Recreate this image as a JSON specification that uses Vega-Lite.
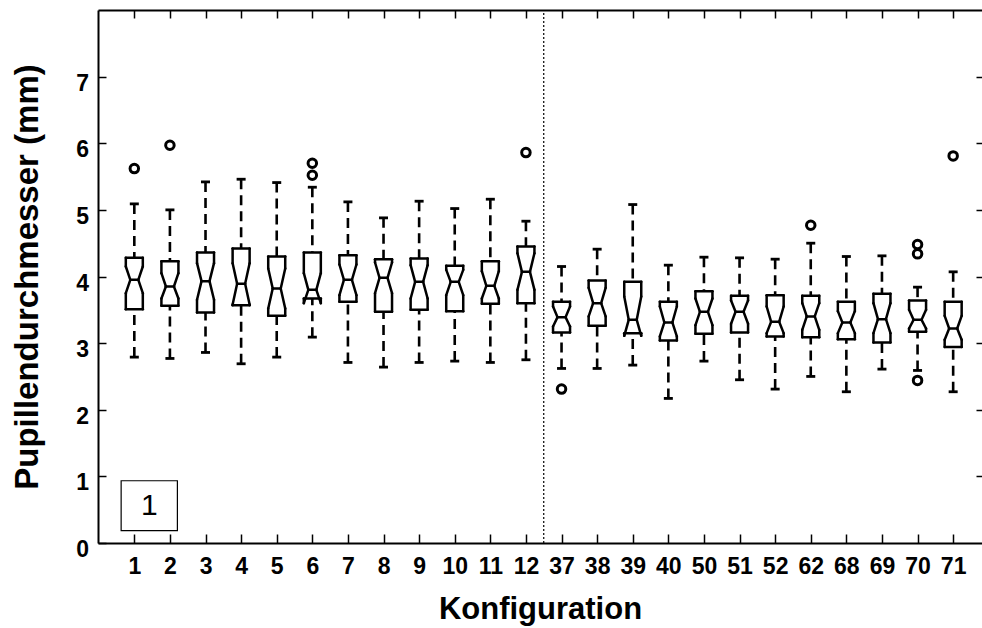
{
  "$schema": "https://vega.github.io/schema/vega-lite/v6.json",
  "width": 884,
  "height": 533,
  "autosize": "none",
  "padding": {"left": 98, "top": 10, "right": 0, "bottom": 85},
  "background": "white",
  "config": {
    "view": {"stroke": null},
    "font": "Liberation Sans",
    "axis": {"grid": false, "labelFlush": false, "labelOverlap": false, "labelBound": false, "tickColor": "black", "domainColor": "black", "labelColor": "black", "titleColor": "black"}
  },
  "datasets": {
    "boxes": [
      {"k": 1, "label": "1", "wlo": 2.79, "q1": 3.51, "nlo": 3.75, "med": 3.95, "nhi": 4.15, "q3": 4.28, "whi": 5.09},
      {"k": 2, "label": "2", "wlo": 2.77, "q1": 3.56, "nlo": 3.67, "med": 3.85, "nhi": 4.05, "q3": 4.23, "whi": 5.0},
      {"k": 3, "label": "3", "wlo": 2.86, "q1": 3.46, "nlo": 3.65, "med": 3.93, "nhi": 4.2, "q3": 4.36, "whi": 5.42},
      {"k": 4, "label": "4", "wlo": 2.69, "q1": 3.57, "nlo": 3.58, "med": 3.89, "nhi": 4.2, "q3": 4.42, "whi": 5.46},
      {"k": 5, "label": "5", "wlo": 2.79, "q1": 3.41, "nlo": 3.52, "med": 3.82, "nhi": 4.12, "q3": 4.3, "whi": 5.41},
      {"k": 6, "label": "6", "wlo": 3.09, "q1": 3.67, "nlo": 3.6, "med": 3.8, "nhi": 4.05, "q3": 4.36, "whi": 5.34},
      {"k": 7, "label": "7", "wlo": 2.71, "q1": 3.62, "nlo": 3.72, "med": 3.95, "nhi": 4.18, "q3": 4.32, "whi": 5.12},
      {"k": 8, "label": "8", "wlo": 2.64, "q1": 3.47, "nlo": 3.75, "med": 3.98, "nhi": 4.21, "q3": 4.26, "whi": 4.88},
      {"k": 9, "label": "9", "wlo": 2.71, "q1": 3.5, "nlo": 3.67, "med": 3.92, "nhi": 4.17, "q3": 4.27, "whi": 5.13},
      {"k": 10, "label": "10", "wlo": 2.73, "q1": 3.48, "nlo": 3.72, "med": 3.92, "nhi": 4.1, "q3": 4.16, "whi": 5.02},
      {"k": 11, "label": "11", "wlo": 2.71, "q1": 3.59, "nlo": 3.67, "med": 3.86, "nhi": 4.08, "q3": 4.23, "whi": 5.16},
      {"k": 12, "label": "12", "wlo": 2.75, "q1": 3.6, "nlo": 3.8, "med": 4.07, "nhi": 4.35, "q3": 4.45, "whi": 4.83},
      {"k": 13, "label": "37", "wlo": 2.62, "q1": 3.16, "nlo": 3.25, "med": 3.39, "nhi": 3.55, "q3": 3.62, "whi": 4.15},
      {"k": 14, "label": "38", "wlo": 2.62, "q1": 3.26, "nlo": 3.4, "med": 3.6, "nhi": 3.83, "q3": 3.94, "whi": 4.41},
      {"k": 15, "label": "39", "wlo": 2.67, "q1": 3.15, "nlo": 3.11, "med": 3.35, "nhi": 3.7, "q3": 3.92, "whi": 5.08},
      {"k": 16, "label": "40", "wlo": 2.17, "q1": 3.04, "nlo": 3.1, "med": 3.31, "nhi": 3.55, "q3": 3.62, "whi": 4.17},
      {"k": 17, "label": "50", "wlo": 2.73, "q1": 3.14, "nlo": 3.27, "med": 3.47, "nhi": 3.67, "q3": 3.78, "whi": 4.29},
      {"k": 18, "label": "51", "wlo": 2.45, "q1": 3.16, "nlo": 3.29, "med": 3.47, "nhi": 3.64, "q3": 3.71, "whi": 4.28},
      {"k": 19, "label": "52", "wlo": 2.31, "q1": 3.1, "nlo": 3.15, "med": 3.32, "nhi": 3.55, "q3": 3.72, "whi": 4.26},
      {"k": 20, "label": "62", "wlo": 2.5, "q1": 3.09, "nlo": 3.2, "med": 3.4, "nhi": 3.6, "q3": 3.71, "whi": 4.5},
      {"k": 21, "label": "68", "wlo": 2.27, "q1": 3.06, "nlo": 3.15, "med": 3.31, "nhi": 3.48, "q3": 3.62, "whi": 4.3},
      {"k": 22, "label": "69", "wlo": 2.61, "q1": 3.01, "nlo": 3.15, "med": 3.36, "nhi": 3.6, "q3": 3.74, "whi": 4.31},
      {"k": 23, "label": "70", "wlo": 2.59, "q1": 3.17, "nlo": 3.22, "med": 3.35, "nhi": 3.5, "q3": 3.64, "whi": 3.84},
      {"k": 24, "label": "71", "wlo": 2.27, "q1": 2.94, "nlo": 3.05, "med": 3.22, "nhi": 3.41, "q3": 3.62, "whi": 4.07}
    ],
    "outliers": [
      {"k": 1, "v": 5.62},
      {"k": 2, "v": 5.97},
      {"k": 6, "v": 5.7},
      {"k": 6, "v": 5.52},
      {"k": 12, "v": 5.86},
      {"k": 13, "v": 2.31},
      {"k": 20, "v": 4.77},
      {"k": 23, "v": 4.48},
      {"k": 23, "v": 4.34},
      {"k": 23, "v": 2.44},
      {"k": 24, "v": 5.81}
    ],
    "one": [{"item": "label box"}]
  },
  "resolve": {"axis": {"x": "independent", "y": "independent"}},
  "layer": [
    {
      "data": {"name": "boxes"},
      "mark": {"type": "rule", "color": "black", "strokeWidth": 2.5, "strokeCap": "round", "xOffset": -8.5, "x2Offset": 8.5},
      "encoding": {
        "x": {"field": "k", "type": "quantitative", "scale": {"domain": [-0.02, 24.81], "nice": false, "zero": false},
          "axis": {"orient": "bottom", "values": [1,2,3,4,5,6,7,8,9,10,11,12,13,14,15,16,17,18,19,20,21,22,23,24],
            "labelExpr": "['1','2','3','4','5','6','7','8','9','10','11','12','37','38','39','40','50','51','52','62','68','69','70','71'][datum.value-1]",
            "tickSize": -9, "tickWidth": 1.5, "domain": true, "domainWidth": 2,
            "labelFont": "Liberation Sans", "labelFontWeight": "bold", "labelFontSize": 23, "labelBaseline": "alphabetic", "labelPadding": 39.7,
            "title": "Konfiguration", "titleFont": "Liberation Sans", "titleFontWeight": "bold", "titleFontSize": 31,
            "titleX": 442, "titleY": 75, "titleBaseline": "alphabetic", "titleAlign": "center"}},
        "x2": {"field": "k"},
        "y": {"field": "q3", "type": "quantitative", "scale": {"domain": [0, 8], "nice": false, "zero": false},
          "axis": {"orient": "left", "values": [0,1,2,3,4,5,6,7], "tickSize": -8, "tickWidth": 1.5, "domain": true, "domainWidth": 2,
            "labelFont": "Liberation Sans", "labelFontWeight": "bold", "labelFontSize": 23, "labelBaseline": "alphabetic", "labelOffset": 13.5, "labelPadding": 17.5,
            "title": "Pupillendurchmesser (mm)", "titleFont": "Liberation Sans", "titleFontWeight": "bold", "titleFontSize": 33,
            "titleAngle": -90, "titleX": -61, "titleY": 266.5, "titleBaseline": "alphabetic", "titleAlign": "center"}}
      }
    },
    {
      "data": {"name": "boxes"},
      "mark": {"type": "rule", "color": "black", "strokeWidth": 2.5, "strokeCap": "round", "xOffset": -8.5, "x2Offset": 8.5},
      "encoding": {
        "x": {"field": "k", "type": "quantitative", "scale": {"domain": [-0.02, 24.81], "nice": false, "zero": false},
          "axis": {"orient": "top", "values": [1,2,3,4,5,6,7,8,9,10,11,12,13,14,15,16,17,18,19,20,21,22,23,24], "labels": false, "tickSize": -8, "tickWidth": 1.5, "domain": true, "domainWidth": 2, "title": null}},
        "x2": {"field": "k"},
        "y": {"field": "q1", "type": "quantitative", "scale": {"domain": [0, 8], "nice": false, "zero": false},
          "axis": {"orient": "right", "values": [1,2,3,4,5,6,7], "labels": false, "tickSize": -6, "tickWidth": 1.5, "domain": false, "title": null}}
      }
    },
    {
      "data": {"name": "boxes"},
      "mark": {"type": "rule", "color": "black", "strokeWidth": 2.5, "strokeCap": "round", "xOffset": -8.5},
      "encoding": {
        "x": {"field": "k", "type": "quantitative", "scale": {"domain": [-0.02, 24.81], "nice": false, "zero": false}, "axis": null},
        "y": {"field": "q3", "type": "quantitative", "scale": {"domain": [0, 8], "nice": false, "zero": false}, "axis": null},
        "y2": {"field": "nhi"}
      }
    },
    {
      "data": {"name": "boxes"},
      "mark": {"type": "rule", "color": "black", "strokeWidth": 2.5, "strokeCap": "round", "xOffset": 8.5},
      "encoding": {
        "x": {"field": "k", "type": "quantitative", "scale": {"domain": [-0.02, 24.81], "nice": false, "zero": false}, "axis": null},
        "y": {"field": "q3", "type": "quantitative", "scale": {"domain": [0, 8], "nice": false, "zero": false}, "axis": null},
        "y2": {"field": "nhi"}
      }
    },
    {
      "data": {"name": "boxes"},
      "mark": {"type": "rule", "color": "black", "strokeWidth": 2.5, "strokeCap": "round", "xOffset": -8.5, "x2Offset": -4},
      "encoding": {
        "x": {"field": "k", "type": "quantitative", "scale": {"domain": [-0.02, 24.81], "nice": false, "zero": false}, "axis": null},
        "x2": {"field": "k"},
        "y": {"field": "nhi", "type": "quantitative", "scale": {"domain": [0, 8], "nice": false, "zero": false}, "axis": null},
        "y2": {"field": "med"}
      }
    },
    {
      "data": {"name": "boxes"},
      "mark": {"type": "rule", "color": "black", "strokeWidth": 2.5, "strokeCap": "round", "xOffset": 8.5, "x2Offset": 4},
      "encoding": {
        "x": {"field": "k", "type": "quantitative", "scale": {"domain": [-0.02, 24.81], "nice": false, "zero": false}, "axis": null},
        "x2": {"field": "k"},
        "y": {"field": "nhi", "type": "quantitative", "scale": {"domain": [0, 8], "nice": false, "zero": false}, "axis": null},
        "y2": {"field": "med"}
      }
    },
    {
      "data": {"name": "boxes"},
      "mark": {"type": "rule", "color": "black", "strokeWidth": 2.5, "strokeCap": "round", "xOffset": -4, "x2Offset": -8.5},
      "encoding": {
        "x": {"field": "k", "type": "quantitative", "scale": {"domain": [-0.02, 24.81], "nice": false, "zero": false}, "axis": null},
        "x2": {"field": "k"},
        "y": {"field": "med", "type": "quantitative", "scale": {"domain": [0, 8], "nice": false, "zero": false}, "axis": null},
        "y2": {"field": "nlo"}
      }
    },
    {
      "data": {"name": "boxes"},
      "mark": {"type": "rule", "color": "black", "strokeWidth": 2.5, "strokeCap": "round", "xOffset": 4, "x2Offset": 8.5},
      "encoding": {
        "x": {"field": "k", "type": "quantitative", "scale": {"domain": [-0.02, 24.81], "nice": false, "zero": false}, "axis": null},
        "x2": {"field": "k"},
        "y": {"field": "med", "type": "quantitative", "scale": {"domain": [0, 8], "nice": false, "zero": false}, "axis": null},
        "y2": {"field": "nlo"}
      }
    },
    {
      "data": {"name": "boxes"},
      "mark": {"type": "rule", "color": "black", "strokeWidth": 2.5, "strokeCap": "round", "xOffset": -8.5},
      "encoding": {
        "x": {"field": "k", "type": "quantitative", "scale": {"domain": [-0.02, 24.81], "nice": false, "zero": false}, "axis": null},
        "y": {"field": "nlo", "type": "quantitative", "scale": {"domain": [0, 8], "nice": false, "zero": false}, "axis": null},
        "y2": {"field": "q1"}
      }
    },
    {
      "data": {"name": "boxes"},
      "mark": {"type": "rule", "color": "black", "strokeWidth": 2.5, "strokeCap": "round", "xOffset": 8.5},
      "encoding": {
        "x": {"field": "k", "type": "quantitative", "scale": {"domain": [-0.02, 24.81], "nice": false, "zero": false}, "axis": null},
        "y": {"field": "nlo", "type": "quantitative", "scale": {"domain": [0, 8], "nice": false, "zero": false}, "axis": null},
        "y2": {"field": "q1"}
      }
    },
    {
      "data": {"name": "boxes"},
      "mark": {"type": "rule", "color": "black", "strokeWidth": 2.5, "strokeCap": "round", "xOffset": -4, "x2Offset": 4},
      "encoding": {
        "x": {"field": "k", "type": "quantitative", "scale": {"domain": [-0.02, 24.81], "nice": false, "zero": false}, "axis": null},
        "x2": {"field": "k"},
        "y": {"field": "med", "type": "quantitative", "scale": {"domain": [0, 8], "nice": false, "zero": false}, "axis": null}
      }
    },
    {
      "data": {"name": "boxes"},
      "mark": {"type": "rule", "color": "black", "strokeWidth": 2.6, "strokeDash": [10, 6]},
      "encoding": {
        "x": {"field": "k", "type": "quantitative", "scale": {"domain": [-0.02, 24.81], "nice": false, "zero": false}, "axis": null},
        "y": {"field": "whi", "type": "quantitative", "scale": {"domain": [0, 8], "nice": false, "zero": false}, "axis": null},
        "y2": {"field": "q3"}
      }
    },
    {
      "data": {"name": "boxes"},
      "mark": {"type": "rule", "color": "black", "strokeWidth": 2.6, "strokeDash": [10, 6]},
      "encoding": {
        "x": {"field": "k", "type": "quantitative", "scale": {"domain": [-0.02, 24.81], "nice": false, "zero": false}, "axis": null},
        "y": {"field": "wlo", "type": "quantitative", "scale": {"domain": [0, 8], "nice": false, "zero": false}, "axis": null},
        "y2": {"field": "q1"}
      }
    },
    {
      "data": {"name": "boxes"},
      "mark": {"type": "rule", "color": "black", "strokeWidth": 2.8, "xOffset": -4.5, "x2Offset": 4.5},
      "encoding": {
        "x": {"field": "k", "type": "quantitative", "scale": {"domain": [-0.02, 24.81], "nice": false, "zero": false}, "axis": null},
        "x2": {"field": "k"},
        "y": {"field": "whi", "type": "quantitative", "scale": {"domain": [0, 8], "nice": false, "zero": false}, "axis": null}
      }
    },
    {
      "data": {"name": "boxes"},
      "mark": {"type": "rule", "color": "black", "strokeWidth": 2.8, "xOffset": -4.5, "x2Offset": 4.5},
      "encoding": {
        "x": {"field": "k", "type": "quantitative", "scale": {"domain": [-0.02, 24.81], "nice": false, "zero": false}, "axis": null},
        "x2": {"field": "k"},
        "y": {"field": "wlo", "type": "quantitative", "scale": {"domain": [0, 8], "nice": false, "zero": false}, "axis": null}
      }
    },
    {
      "data": {"name": "outliers"},
      "mark": {"type": "point", "shape": "circle", "filled": false, "color": "black", "strokeWidth": 3, "size": 72, "opacity": 1},
      "encoding": {
        "x": {"field": "k", "type": "quantitative", "scale": {"domain": [-0.02, 24.81], "nice": false, "zero": false}, "axis": null},
        "y": {"field": "v", "type": "quantitative", "scale": {"domain": [0, 8], "nice": false, "zero": false}, "axis": null}
      }
    },
    {
      "data": {"name": "one"},
      "mark": {"type": "rule", "color": "black", "strokeWidth": 1.2, "strokeDash": [2, 2]},
      "encoding": {
        "x": {"datum": 12.5, "type": "quantitative", "scale": {"domain": [-0.02, 24.81], "nice": false, "zero": false}, "axis": null},
        "y": {"datum": 0, "type": "quantitative", "scale": {"domain": [0, 8], "nice": false, "zero": false}, "axis": null},
        "y2": {"datum": 8}
      }
    },
    {
      "data": {"name": "one"},
      "mark": {"type": "rect", "fill": "white", "stroke": "black", "strokeWidth": 1.2},
      "encoding": {
        "x": {"datum": 0.63, "type": "quantitative", "scale": {"domain": [-0.02, 24.81], "nice": false, "zero": false}, "axis": null},
        "x2": {"datum": 2.21},
        "y": {"datum": 0.185, "type": "quantitative", "scale": {"domain": [0, 8], "nice": false, "zero": false}, "axis": null},
        "y2": {"datum": 0.934}
      }
    },
    {
      "data": {"name": "one"},
      "mark": {"type": "text", "text": "1", "font": "Liberation Sans", "fontSize": 30, "color": "black", "align": "center", "baseline": "middle"},
      "encoding": {
        "x": {"datum": 1.42, "type": "quantitative", "scale": {"domain": [-0.02, 24.81], "nice": false, "zero": false}, "axis": null},
        "y": {"datum": 0.55, "type": "quantitative", "scale": {"domain": [0, 8], "nice": false, "zero": false}, "axis": null}
      }
    }
  ]
}
